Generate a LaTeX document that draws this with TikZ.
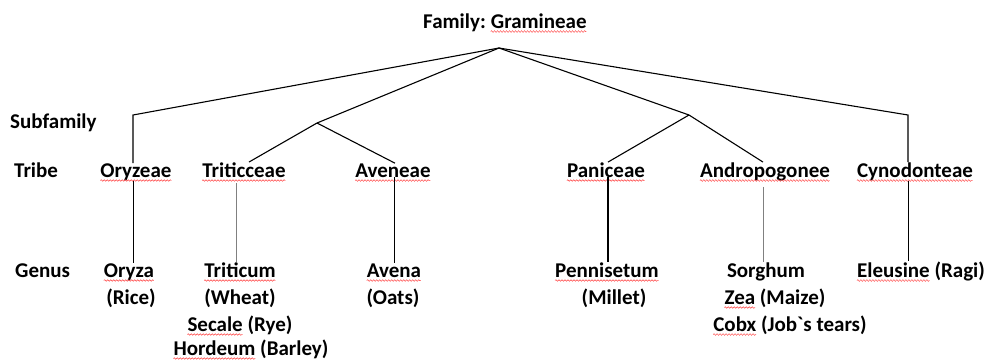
\documentclass[tikz,border=0pt]{standalone}
\usepackage{fontspec}
\setmainfont{Carlito}
\newfontfamily\rawcal{Carlito}[Ligatures=TeXOff]
\usetikzlibrary{decorations.pathmorphing}
\newcommand\squnder[2]{%
  \pgfmathsetlengthmacro\sqw{width("#2")}%
  \draw[squig] ([yshift=-3.5pt]#1.base west) -- ++(\sqw,0);}
\begin{document}
\begin{tikzpicture}[x=1pt,y=-1pt,
  lbl/.style={font=\bfseries\fontsize{21}{25}\selectfont,inner sep=0pt,anchor=base},
  lblw/.style={lbl,anchor=base west},
  edge/.style={line width=1.1pt,black},
  drop/.style={line width=1pt,black},
  squig/.style={draw=red!75,line width=0.5pt,decorate,
    decoration={snake,amplitude=0.8pt,segment length=3pt}}]
\bfseries\fontsize{21}{25}\selectfont
\useasboundingbox (0,0) rectangle (990,360);

% top
\node[lblw] (famA) at (423,28) {Family:};
\node[lblw] (fam) at ([xshift=4.7pt]famA.base east) {Gramineae};

% row labels
\node[lblw] (subfam) at (10,128) {Subfamily};
\node[lblw] (tribe) at (14,177) {Tribe};
\node[lblw] (genus) at (15,277) {Genus};

% tribes
\node[lbl] (oryzeae) at (136,177) {Oryzeae};
\node[lbl] (tritic) at (244,177) {Triticceae};
\node[lbl] (aveneae) at (393,177) {Aveneae};
\node[lbl] (paniceae) at (606,177) {Paniceae};
\node[lbl] (andro) at (765,177) {Andropogonee};
\node[lbl] (cyno) at (915,177) {Cynodonteae};

% genera
\node[lbl] (oryza) at (129,277) {Oryza};
\node[lbl] (rice) at (131,304) {(Rice)};
\node[lbl] (triticum) at (240,277) {Triticum};
\node[lbl] (wheat) at (240,304) {(Wheat)};
\node[lbl] (secale) at (240,331) {Secale (Rye)};
\node[lbl] (hordeum) at (251,355) {Hordeum (Barley)};
\node[lbl] (avena) at (394,277) {Avena};
\node[lbl] (oats) at (393,304) {(Oats)};
\node[lbl] (penn) at (607,277) {Pennisetum};
\node[lbl] (millet) at (614,304) {(Millet)};
\node[lbl] (sorghum) at (766,277) {Sorghum};
\node[lbl] (zea) at (775,304) {Zea (Maize)};
\node[lbl] (cobx) at (790,331) {Cobx (Job{\rawcal\char96}s tears)};
\node[lbl] (eleusine) at (921,277) {Eleusine (Ragi)};

% spell-check underlines
\squnder{fam}{Gramineae}
\squnder{oryzeae}{Oryzeae}
\squnder{tritic}{Triticceae}
\squnder{aveneae}{Aveneae}
\squnder{paniceae}{Paniceae}
\squnder{andro}{Andropogonee}
\squnder{cyno}{Cynodonteae}
\squnder{oryza}{Oryza}
\squnder{triticum}{Triticum}
\squnder{secale}{Secale}
\squnder{hordeum}{Hordeum}
\squnder{avena}{Avena}
\squnder{penn}{Pennisetum}
\squnder{zea}{Zea}
\squnder{cobx}{Cobx}
\squnder{eleusine}{Eleusine}

% junction points
\coordinate (root) at (499,48);
\coordinate (cL) at (133,115);
\coordinate (jL) at (317,123);
\coordinate (jR) at (689,115);
\coordinate (cR) at (908,115);

% connectors
\draw[edge] (root) -- (cL) -- (cL |- oryzeae.north);
\draw[edge] (root) -- (jL);
\draw[edge] (jL) -- ([xshift=5pt]tritic.north);
\draw[edge] (jL) -- ([xshift=2pt]aveneae.north);
\draw[edge] (root) -- (jR);
\draw[edge] (jR) -- ([xshift=2pt]paniceae.north);
\draw[edge] (jR) -- ([xshift=-2pt]andro.north);
\draw[edge] (root) -- (cR) -- (cR |- cyno.north);

% tribe to genus
\draw[drop] (oryzeae.south -| cL) -- (oryza.north -| cL);
\draw[drop,gray] ([xshift=-8pt,yshift=-6pt]tritic.south) -- ([xshift=-4pt]triticum.north);
\draw[drop] (aveneae.south -| avena.north) -- (avena.north);
\draw[line width=1.6pt] ([xshift=2pt]paniceae.south) -- ([xshift=1pt]penn.north);
\draw[drop,gray] ([xshift=-2pt,yshift=-6pt]andro.south) -- ([xshift=-3pt]sorghum.north);
\draw[drop] (cyno.south -| cR) -- (eleusine.north -| cR);
\end{tikzpicture}
\end{document}
